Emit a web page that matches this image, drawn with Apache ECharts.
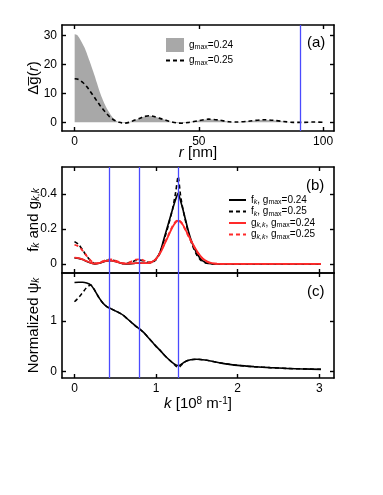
<!DOCTYPE html>
<html>
<head>
<meta charset="utf-8">
<script src="https://cdn.jsdelivr.net/npm/echarts@6/dist/echarts.min.js"></script>
<style>
  html, body { margin: 0; padding: 0; background: #fff; }
  #chart { width: 383px; height: 495px; }
</style>
</head>
<body>
<div id="chart"></div>
<script>
// (a) r in nm, delta g(r)
const rNm = [0, 1, 2, 3, 4, 5, 6, 7, 8, 9, 10, 11, 12, 13, 14, 15, 16, 17, 18, 19, 20,
  22, 24, 26, 28, 30, 32, 35, 38, 41, 43, 46, 50, 54, 58, 62, 65, 70, 76, 80, 84, 88, 92, 96, 100]
const dg24 = [30.5, 30.2, 29.0, 27.5, 25.8, 23.6, 21.2, 18.7, 16.2, 13.5, 10.8, 8.5, 6.4, 4.7, 3.3, 2.0, 1.0, 0.4, 0.0, -0.1, -0.2,
  0.1, 0.7, 1.3, 2.0, 2.3, 2.0, 1.2, 0.4, -0.2, -0.3, 0.0, 0.6, 1.1, 0.8, 0.2, 0.1, 0.4, 0.9, 0.7, 0.3, 0.0, 0.0, 0.1, 0.0]
const dg25 = [15.1, 15.0, 14.6, 14.0, 13.2, 12.2, 11.0, 9.8, 8.6, 7.3, 6.1, 5.0, 3.9, 2.9, 2.0, 1.3, 0.7, 0.3, 0.0, -0.2, -0.3,
  0.0, 0.7, 1.3, 2.0, 2.3, 2.0, 1.2, 0.4, -0.2, -0.3, 0.0, 0.6, 1.1, 0.8, 0.2, 0.1, 0.4, 0.9, 0.7, 0.3, 0.0, 0.0, 0.1, 0.0]
const rMarks = [90.7]

// (b) k in 1e8 m^-1
const kB = [0, 0.05, 0.1, 0.15, 0.2, 0.25, 0.3, 0.35, 0.4, 0.45, 0.5, 0.55, 0.6, 0.65, 0.7, 0.75, 0.8, 0.85, 0.9, 0.95, 1.0,
  1.05, 1.1, 1.15, 1.2, 1.24, 1.27, 1.3, 1.33, 1.4, 1.45, 1.5, 1.55, 1.6, 1.65, 1.7, 1.8, 1.9, 2.0, 2.5, 3.02]
const fk24 = [0.035, 0.032, 0.025, 0.015, 0.006, 0.001, 0.004, 0.012, 0.018, 0.019, 0.015, 0.008, 0.002, 0.001, 0.002, 0.004, 0.005, 0.004, 0.004, 0.012, 0.03,
  0.07, 0.15, 0.23, 0.31, 0.37, 0.405, 0.36, 0.31, 0.18, 0.11, 0.06, 0.027, 0.01, 0.003, 0.001, 0.001, 0.001, 0.001, 0.001, 0.001]
const fk25 = [0.128, 0.112, 0.08, 0.045, 0.017, 0.003, 0.005, 0.014, 0.021, 0.023, 0.018, 0.009, 0.002, 0.004, 0.012, 0.02, 0.022, 0.017, 0.009, 0.01, 0.025,
  0.065, 0.14, 0.22, 0.31, 0.41, 0.5, 0.39, 0.31, 0.17, 0.1, 0.05, 0.02, 0.007, 0.002, 0.001, 0.001, 0.001, 0.001, 0.001, 0.001]
const gk24 = [0.036, 0.033, 0.026, 0.016, 0.007, 0.002, 0.005, 0.013, 0.018, 0.019, 0.015, 0.008, 0.003, 0.002, 0.003, 0.005, 0.006, 0.005, 0.005, 0.012, 0.03,
  0.062, 0.11, 0.16, 0.21, 0.238, 0.247, 0.24, 0.222, 0.16, 0.115, 0.075, 0.043, 0.021, 0.009, 0.004, 0.001, 0.001, 0.001, 0.001, 0.001]
const gk25 = [0.11, 0.1, 0.076, 0.046, 0.019, 0.004, 0.006, 0.016, 0.024, 0.026, 0.02, 0.01, 0.003, 0.005, 0.015, 0.025, 0.027, 0.02, 0.01, 0.01, 0.03,
  0.066, 0.115, 0.165, 0.215, 0.242, 0.25, 0.242, 0.222, 0.155, 0.11, 0.07, 0.04, 0.018, 0.008, 0.003, 0.001, 0.001, 0.001, 0.001, 0.001]

// (c) normalized psi_k
const kC = [0, 0.05, 0.1, 0.15, 0.2, 0.25, 0.3, 0.35, 0.4, 0.45, 0.5, 0.55, 0.6, 0.65, 0.7, 0.75, 0.8, 0.85, 0.9, 0.95, 1.0,
  1.05, 1.1, 1.15, 1.2, 1.25, 1.28, 1.32, 1.36, 1.4, 1.45, 1.5, 1.6, 1.7, 1.8, 1.9, 2.0, 2.2, 2.4, 2.6, 2.8, 3.02]
const psi24 = [1.76, 1.765, 1.765, 1.75, 1.71, 1.6, 1.46, 1.35, 1.28, 1.24, 1.2, 1.16, 1.11, 1.04, 0.97, 0.9, 0.84, 0.77, 0.68, 0.59, 0.5,
  0.42, 0.33, 0.25, 0.18, 0.13, 0.12, 0.16, 0.2, 0.225, 0.24, 0.245, 0.23, 0.2, 0.17, 0.145, 0.125, 0.1, 0.08, 0.065, 0.055, 0.047]
const psi25 = [1.38, 1.46, 1.56, 1.66, 1.71, 1.6, 1.46, 1.35, 1.28, 1.24, 1.2, 1.16, 1.11, 1.04, 0.97, 0.9, 0.84, 0.77, 0.68, 0.59, 0.5,
  0.42, 0.33, 0.25, 0.18, 0.1, 0.09, 0.15, 0.2, 0.225, 0.24, 0.245, 0.23, 0.2, 0.17, 0.145, 0.125, 0.1, 0.08, 0.065, 0.055, 0.047]
const kMarks = [0.43, 0.79, 1.275]

const FONT = 'Liberation Sans'
const BLUE = '#4a4aff'
const RED = '#ff2a2a'
const DASH = [4, 3]

const pts = (xs, ys) => xs.map((x, i) => [x, ys[i]])

const legendText = {
  a24: '{n|g}{s|max}{n|=0.24}',
  a25: '{n|g}{s|max}{n|=0.25}',
  f24: '{n|f}{si|k}{n|, g}{s|max}{n|=0.24}',
  f25: '{n|f}{si|k}{n|, g}{s|max}{n|=0.25}',
  g24: '{n|g}{si|k,k}{n|, g}{s|max}{n|=0.24}',
  g25: '{n|g}{si|k,k}{n|, g}{s|max}{n|=0.25}'
}
const legendRich = {
  n: { fontSize: 10, lineHeight: 12, fontFamily: FONT, color: '#000' },
  s: { fontSize: 7, lineHeight: 6, verticalAlign: 'bottom', fontFamily: FONT, color: '#000' },
  si: { fontSize: 7, lineHeight: 6, verticalAlign: 'bottom', fontStyle: 'italic', fontFamily: FONT, color: '#000' }
}
const nameRich = {
  i: { fontSize: 15, fontStyle: 'italic', fontFamily: FONT, color: '#000' },
  si: { fontSize: 10, lineHeight: 10, verticalAlign: 'bottom', fontStyle: 'italic', fontFamily: FONT, color: '#000' },
  sup: { fontSize: 10, lineHeight: 10, verticalAlign: 'top', fontFamily: FONT, color: '#000' }
}

// one axis of a framed panel; ticks point inward on every side
function axis(gridIndex, position, min, max, vals, showLabels, extra) {
  return Object.assign({
    type: 'value', gridIndex, position, min, max,
    axisLine: { show: true, onZero: false, lineStyle: { color: '#000', width: 1.6 } },
    axisTick: { show: true, inside: true, length: 4, customValues: vals, lineStyle: { color: '#000', width: 1.4 } },
    axisLabel: { show: showLabels, customValues: vals, color: '#000', fontSize: 12, fontFamily: FONT, margin: 5 },
    splitLine: { show: false },
    nameMoveOverlap: false
  }, extra || {})
}
const nameStyle = { fontSize: 15, color: '#000', fontFamily: FONT, rich: nameRich }
// legend icons for lines: hide the default circle marker
const noMarker = { color: 'transparent', borderWidth: 0, opacity: 0 }

const rTicks = [0, 50, 100]
const kTicks = [0, 1, 2, 3]

const option = {
  animation: false,
  backgroundColor: '#fff',
  grid: [
    { left: 62, right: 49, top: 25, height: 106 },
    { left: 62, right: 49, top: 167, height: 106 },
    { left: 62, right: 49, top: 273, height: 105 }
  ],
  xAxis: [
    axis(0, 'bottom', -5.1, 104.4, rTicks, true, {
      name: '{i|r} [nm]', nameLocation: 'middle', nameGap: 14, nameTextStyle: nameStyle
    }),
    axis(0, 'top', -5.1, 104.4, rTicks, false),
    axis(1, 'bottom', -0.153, 3.18, kTicks, false),
    axis(1, 'top', -0.153, 3.18, kTicks, false),
    axis(2, 'bottom', -0.153, 3.18, kTicks, true, {
      name: '{i|k} [10{sup|8} m{sup|-1}]', nameLocation: 'middle', nameGap: 18, nameTextStyle: nameStyle
    }),
    axis(2, 'top', -0.153, 3.18, kTicks, false)
  ],
  yAxis: [
    axis(0, 'left', -3, 33.7, [0, 10, 20, 30], true, {
      name: 'Δg\u0305({i|r})', nameLocation: 'middle', nameGap: 21, nameTextStyle: nameStyle
    }),
    axis(0, 'right', -3, 33.7, [0, 10, 20, 30], false),
    axis(1, 'left', -0.0514, 0.554, [0, 0.2, 0.4], true, {
      name: 'f{si|k} and g{si|k,k}', nameLocation: 'middle', nameGap: 21, nameTextStyle: nameStyle
    }),
    axis(1, 'right', -0.0514, 0.554, [0, 0.2, 0.4], false),
    axis(2, 'left', -0.124, 1.947, [0, 1], true, {
      name: 'Normalized ψ{si|k}', nameLocation: 'middle', nameGap: 21, nameTextStyle: nameStyle
    }),
    axis(2, 'right', -0.124, 1.947, [0, 1], false)
  ],
  legend: [
    {
      left: 165, top: 38, padding: 0, orient: 'vertical', itemWidth: 18, itemHeight: 14, itemGap: 3,
      itemStyle: noMarker,
      data: [{ name: 'a24', icon: 'rect', itemStyle: { color: '#a8a8a8', opacity: 1 } }, 'a25'],
      formatter: name => legendText[name],
      textStyle: { fontSize: 10, fontFamily: FONT, color: '#000', rich: legendRich }
    },
    {
      left: 228, top: 195, padding: 0, orient: 'vertical', itemWidth: 17, itemHeight: 10, itemGap: 0.5,
      itemStyle: noMarker,
      data: ['f24', 'f25', 'g24', 'g25'],
      formatter: name => legendText[name],
      textStyle: { fontSize: 10, fontFamily: FONT, color: '#000', rich: legendRich }
    }
  ],
  graphic: [
    { type: 'text', left: 307, top: 35, style: { text: '(a)', fontSize: 15, fontFamily: FONT, fill: '#000' } },
    { type: 'text', left: 306, top: 178, style: { text: '(b)', fontSize: 15, fontFamily: FONT, fill: '#000' } },
    { type: 'text', left: 307, top: 284, style: { text: '(c)', fontSize: 15, fontFamily: FONT, fill: '#000' } }
  ],
  series: [
    {
      type: 'line', name: 'a24', xAxisIndex: 0, yAxisIndex: 0, data: pts(rNm, dg24),
      symbol: 'none', smooth: 0.3, color: '#a8a8a8',
      lineStyle: { width: 0 }, areaStyle: { color: '#a8a8a8', opacity: 1 }
    },
    {
      type: 'line', name: 'a25', xAxisIndex: 0, yAxisIndex: 0, data: pts(rNm, dg25),
      symbol: 'none', smooth: 0.3, color: '#000',
      lineStyle: { color: '#000', width: 1.6, type: DASH },
      markLine: {
        symbol: 'none', silent: true, label: { show: false },
        lineStyle: { color: BLUE, width: 1.3, type: 'solid' },
        data: rMarks.map(v => ({ xAxis: v }))
      }
    },
    {
      type: 'line', name: 'f24', xAxisIndex: 2, yAxisIndex: 2, data: pts(kB, fk24),
      symbol: 'none', smooth: 0.2, color: '#000', lineStyle: { color: '#000', width: 1.6 }
    },
    {
      type: 'line', name: 'f25', xAxisIndex: 2, yAxisIndex: 2, data: pts(kB, fk25),
      symbol: 'none', smooth: 0.2, color: '#000', lineStyle: { color: '#000', width: 1.6, type: DASH }
    },
    {
      type: 'line', name: 'g24', xAxisIndex: 2, yAxisIndex: 2, data: pts(kB, gk24),
      symbol: 'none', smooth: 0.3, color: RED, lineStyle: { color: RED, width: 1.8 }
    },
    {
      type: 'line', name: 'g25', xAxisIndex: 2, yAxisIndex: 2, data: pts(kB, gk25),
      symbol: 'none', smooth: 0.3, color: RED, lineStyle: { color: RED, width: 1.8, type: DASH },
      markLine: {
        symbol: 'none', silent: true, label: { show: false },
        lineStyle: { color: BLUE, width: 1.3, type: 'solid' },
        data: kMarks.map(v => ({ xAxis: v }))
      }
    },
    {
      type: 'line', name: 'p25', xAxisIndex: 4, yAxisIndex: 4, data: pts(kC, psi25),
      symbol: 'none', smooth: 0.3, color: '#000', lineStyle: { color: '#000', width: 1.5, type: DASH }
    },
    {
      type: 'line', name: 'p24', xAxisIndex: 4, yAxisIndex: 4, data: pts(kC, psi24),
      symbol: 'none', smooth: 0.3, color: '#000', lineStyle: { color: '#000', width: 1.6 },
      markLine: {
        symbol: 'none', silent: true, label: { show: false },
        lineStyle: { color: BLUE, width: 1.3, type: 'solid' },
        data: kMarks.map(v => ({ xAxis: v }))
      }
    }
  ]
}

const chart = echarts.init(document.getElementById('chart'), null, { renderer: 'canvas' })
chart.setOption(option)
window.onresize = () => chart.resize()
</script>
</body>
</html>
